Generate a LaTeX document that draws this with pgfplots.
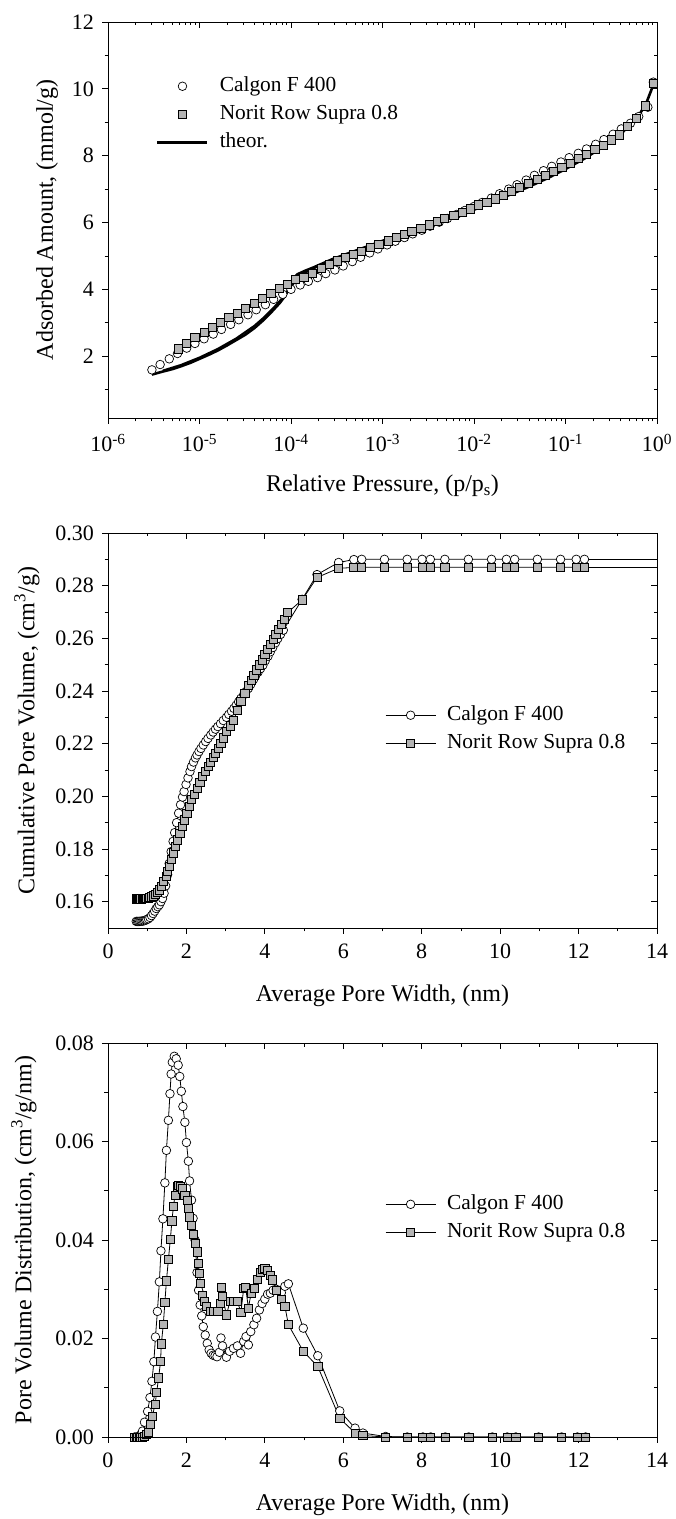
\documentclass[border=0pt]{standalone}
\usepackage{fontspec}
\setmainfont{Liberation Serif}
\usepackage{pgfplots}
\pgfplotsset{compat=1.18}
\usepackage{pgfplotstable}
\definecolor{sqgray}{RGB}{180,180,180}

% ---------- Panel 1 data (lx = log10 of p/ps) ----------
\pgfplotstableread{
lx y
-5.52 1.59
-5.43 1.75
-5.33 1.92
-5.24 2.08
-5.14 2.24
-5.05 2.38
-4.95 2.52
-4.85 2.66
-4.76 2.80
-4.66 2.95
-4.57 3.09
-4.47 3.24
-4.38 3.39
-4.28 3.54
-4.19 3.70
-4.09 3.85
-4.00 4.00
-3.90 4.13
-3.81 4.24
-3.71 4.35
-3.62 4.47
-3.52 4.58
-3.43 4.70
-3.33 4.83
-3.24 4.96
-3.14 5.09
-3.05 5.21
-2.95 5.33
-2.86 5.44
-2.76 5.55
-2.67 5.66
-2.57 5.77
-2.48 5.89
-2.38 6.01
-2.29 6.12
-2.19 6.24
-2.10 6.36
-2.00 6.48
-1.91 6.60
-1.81 6.73
-1.72 6.86
-1.62 7.00
-1.53 7.13
-1.43 7.27
-1.34 7.41
-1.24 7.55
-1.15 7.68
-1.05 7.81
-0.96 7.94
-0.86 8.07
-0.77 8.20
-0.67 8.34
-0.58 8.48
-0.48 8.64
-0.39 8.80
-0.29 8.97
-0.20 9.17
-0.10 9.45
-0.04 10.20
}\calA
\pgfplotstableread{
lx y
-5.23 2.22
-5.14 2.39
-5.05 2.57
-4.95 2.72
-4.86 2.87
-4.77 3.02
-4.68 3.15
-4.59 3.29
-4.50 3.44
-4.40 3.59
-4.31 3.72
-4.22 3.87
-4.13 4.02
-4.04 4.15
-3.95 4.29
-3.86 4.37
-3.77 4.49
-3.67 4.62
-3.58 4.75
-3.49 4.85
-3.41 4.95
-3.32 5.05
-3.23 5.13
-3.13 5.25
-3.04 5.35
-2.94 5.45
-2.85 5.55
-2.76 5.65
-2.68 5.73
-2.58 5.83
-2.49 5.93
-2.40 6.03
-2.32 6.13
-2.22 6.21
-2.13 6.31
-2.04 6.41
-1.95 6.53
-1.86 6.61
-1.77 6.71
-1.68 6.81
-1.59 6.93
-1.50 7.05
-1.41 7.16
-1.31 7.30
-1.22 7.42
-1.13 7.54
-1.04 7.66
-0.95 7.78
-0.86 7.91
-0.77 8.03
-0.68 8.18
-0.59 8.30
-0.50 8.47
-0.41 8.62
-0.32 8.87
-0.23 9.12
-0.13 9.49
-0.04 10.17
}\norA
\pgfplotstableread{
lx y
-5.52 1.45
-5.40 1.54
-5.30 1.61
-5.20 1.70
-5.10 1.80
-5.00 1.92
-4.90 2.04
-4.80 2.17
-4.70 2.32
-4.60 2.48
-4.50 2.64
-4.40 2.84
-4.30 3.08
-4.20 3.36
-4.12 3.60
-4.06 3.82
-4.02 4.05
-3.98 4.30
-3.93 4.45
-3.85 4.55
-3.75 4.66
-3.65 4.78
-3.55 4.90
-3.45 5.00
-3.30 5.15
-3.15 5.30
-3.00 5.45
-2.80 5.65
-2.60 5.83
-2.40 6.03
-2.20 6.22
-2.00 6.42
-1.80 6.62
-1.60 6.84
-1.40 7.07
-1.20 7.32
-1.00 7.60
-0.80 7.90
-0.60 8.25
-0.40 8.65
-0.30 8.90
-0.20 9.20
-0.12 9.55
-0.05 10.05
}\thA
\pgfplotstableread{
lx y
-5.40 1.57
-5.20 1.74
-5.00 1.96
-4.80 2.22
-4.60 2.53
-4.40 2.91
-4.30 3.15
-4.20 3.42
-4.10 3.72
-4.02 3.98
-3.96 4.22
-3.90 4.42
-3.80 4.56
-3.65 4.76
}\thB

% ---------- Panel 2 data ----------
\pgfplotstableread{
x y
0.72 0.1525
0.75 0.1525
0.78 0.1525
0.81 0.1525
0.84 0.1526
0.87 0.1526
0.90 0.1527
0.93 0.1528
0.96 0.1530
0.99 0.1532
1.03 0.1535
1.07 0.1540
1.11 0.1547
1.15 0.1555
1.19 0.1564
1.23 0.1574
1.27 0.1581
1.31 0.1588
1.35 0.1600
1.39 0.1612
1.43 0.1632
1.47 0.1660
1.52 0.1702
1.56 0.1745
1.61 0.1790
1.66 0.1829
1.70 0.1862
1.75 0.1900
1.80 0.1936
1.85 0.1968
1.90 0.1997
1.94 0.2018
1.99 0.2045
2.04 0.2070
2.09 0.2094
2.13 0.2113
2.18 0.2130
2.23 0.2146
2.27 0.2157
2.32 0.2170
2.37 0.2182
2.43 0.2195
2.49 0.2208
2.55 0.2220
2.62 0.2233
2.68 0.2244
2.74 0.2255
2.80 0.2265
2.87 0.2276
2.94 0.2288
3.02 0.2300
3.08 0.2311
3.15 0.2323
3.21 0.2334
3.27 0.2346
3.33 0.2359
3.39 0.2372
3.46 0.2386
3.52 0.2398
3.58 0.2410
3.64 0.2425
3.71 0.2443
3.77 0.2460
3.83 0.2472
3.89 0.2485
3.95 0.2498
4.01 0.2515
4.08 0.2532
4.14 0.2549
4.20 0.2565
4.27 0.2583
4.33 0.2599
4.40 0.2615
4.47 0.2631
4.95 0.2748
5.33 0.2842
5.88 0.2888
6.27 0.2899
6.47 0.2900
7.05 0.2900
7.63 0.2900
8.01 0.2900
8.22 0.2900
8.59 0.2900
9.19 0.2900
9.78 0.2900
10.16 0.2900
10.37 0.2900
10.95 0.2900
11.54 0.2900
11.94 0.2900
12.15 0.2900
}\calB
\pgfplotstableread{
x y
0.72 0.1611
0.75 0.1611
0.78 0.1611
0.81 0.1611
0.84 0.1611
0.87 0.1612
0.90 0.1612
0.93 0.1612
0.96 0.1613
0.99 0.1613
1.02 0.1614
1.06 0.1615
1.10 0.1618
1.15 0.1622
1.20 0.1627
1.25 0.1635
1.30 0.1645
1.36 0.1658
1.42 0.1677
1.48 0.1696
1.52 0.1715
1.57 0.1734
1.61 0.1760
1.66 0.1785
1.71 0.1810
1.76 0.1835
1.83 0.1860
1.90 0.1886
1.95 0.1911
2.01 0.1936
2.07 0.1962
2.13 0.1987
2.20 0.2008
2.27 0.2030
2.34 0.2052
2.41 0.2075
2.48 0.2094
2.55 0.2113
2.62 0.2130
2.68 0.2147
2.74 0.2163
2.81 0.2181
2.88 0.2200
2.95 0.2222
3.02 0.2246
3.11 0.2268
3.20 0.2290
3.30 0.2325
3.39 0.2360
3.49 0.2391
3.58 0.2422
3.65 0.2441
3.72 0.2460
3.79 0.2480
3.86 0.2499
3.93 0.2518
4.00 0.2538
4.07 0.2557
4.14 0.2576
4.21 0.2596
4.28 0.2615
4.35 0.2634
4.42 0.2653
4.49 0.2673
4.58 0.2698
4.95 0.2746
5.33 0.2831
5.88 0.2866
6.27 0.2869
6.47 0.2870
7.05 0.2870
7.63 0.2870
8.01 0.2870
8.22 0.2870
8.59 0.2870
9.19 0.2870
9.78 0.2870
10.16 0.2870
10.37 0.2870
10.95 0.2870
11.54 0.2870
11.94 0.2870
12.15 0.2870
}\norB

% ---------- Panel 3 data ----------
\pgfplotstableread{
x y
0.68 0
0.72 0
0.76 0
0.80 0.0002
0.84 0.0005
0.88 0.0012
0.93 0.0030
1.01 0.0052
1.07 0.0080
1.12 0.0113
1.17 0.0153
1.21 0.0203
1.26 0.0255
1.31 0.0315
1.35 0.0378
1.40 0.0443
1.45 0.0516
1.49 0.0582
1.54 0.0643
1.58 0.0697
1.61 0.0737
1.64 0.0761
1.69 0.0773
1.74 0.0768
1.79 0.0755
1.83 0.0732
1.87 0.0702
1.91 0.0671
1.96 0.0639
2.00 0.0598
2.05 0.0560
2.08 0.0520
2.13 0.0481
2.17 0.0444
2.22 0.0400
2.27 0.0334
2.31 0.0298
2.35 0.0268
2.39 0.0246
2.43 0.0224
2.48 0.0207
2.53 0.0190
2.58 0.0177
2.63 0.0170
2.68 0.0166
2.73 0.0165
2.78 0.0163
2.84 0.0172
2.88 0.0201
2.92 0.0185
3.02 0.0162
3.10 0.0174
3.20 0.0180
3.30 0.0185
3.38 0.0170
3.46 0.0194
3.52 0.0204
3.58 0.0187
3.64 0.0214
3.72 0.0228
3.79 0.0241
3.86 0.0258
3.93 0.0271
4.00 0.0280
4.07 0.0290
4.14 0.0292
4.21 0.0298
4.29 0.0300
4.42 0.0293
4.51 0.0306
4.60 0.0311
4.98 0.0221
5.35 0.0165
5.91 0.0053
6.30 0.0018
6.50 0.0008
7.08 0.0001
7.63 0
8.03 0
8.23 0
8.60 0
9.20 0
9.80 0
10.18 0
10.40 0
10.98 0
11.57 0
11.97 0
12.18 0
}\calC
\pgfplotstableread{
x y
0.68 0
0.72 0
0.76 0
0.80 0
0.84 0
0.88 0
0.92 0.0002
0.98 0.0005
1.03 0.0010
1.08 0.0025
1.13 0.0042
1.20 0.0066
1.24 0.0090
1.29 0.0120
1.34 0.0153
1.36 0.0189
1.41 0.0228
1.45 0.0273
1.49 0.0317
1.54 0.0360
1.59 0.0401
1.63 0.0439
1.67 0.0469
1.71 0.0491
1.76 0.0508
1.80 0.0511
1.85 0.0509
1.90 0.0504
1.96 0.0491
2.02 0.0481
2.05 0.0464
2.08 0.0447
2.13 0.0430
2.18 0.0412
2.22 0.0393
2.27 0.0376
2.30 0.0352
2.33 0.0332
2.36 0.0312
2.41 0.0288
2.46 0.0275
2.50 0.0265
2.60 0.0255
2.69 0.0255
2.80 0.0255
2.86 0.0271
2.89 0.0304
2.92 0.0285
3.02 0.0248
3.11 0.0275
3.20 0.0275
3.30 0.0275
3.39 0.0253
3.46 0.0302
3.51 0.0304
3.58 0.0262
3.65 0.0292
3.74 0.0302
3.81 0.0320
3.89 0.0334
3.93 0.0340
4.00 0.0342
4.06 0.0338
4.14 0.0329
4.20 0.0319
4.29 0.0298
4.42 0.0280
4.51 0.0266
4.60 0.0228
4.98 0.0174
5.35 0.0143
5.91 0.0038
6.30 0.0008
6.50 0.0003
7.08 0
7.63 0
8.03 0
8.23 0
8.60 0
9.20 0
9.80 0
10.18 0
10.40 0
10.98 0
11.57 0
11.97 0
12.18 0
}\norC

\pgfplotsset{
  base/.style={
    scale only axis, width=549bp, height=395bp, anchor=south west,
    axis line style={line width=0.9bp, black},
    tick style={black, line width=0.8bp},
    major tick length=6bp, minor tick length=3.5bp,
    ticklabel style={font=\fontsize{22bp}{26bp}\selectfont},
    /pgf/number format/assume math mode=true,
    label style={font=\fontsize{24bp}{28bp}\selectfont},
    scaled ticks=false,
  },
  mainax/.style={base, tick align=outside, xtick pos=left, ytick pos=left,
    xticklabel style={anchor=north, inner sep=0pt, yshift=-10bp},
    yticklabel style={anchor=east, inner sep=0pt, xshift=-8bp},
    xlabel style={at={(axis description cs:0.5,0)}, anchor=center, yshift=-68bp},
  },
  topax/.style={base, tick align=inside, xtick pos=right, ytick pos=right,
    xticklabels={}, yticklabels={}},
  leg/.style={legend style={at={#1}, anchor=north west, draw=none, fill=none,
      inner sep=0pt, row sep=6bp,
      font=\fontsize{21.4bp}{25bp}\selectfont,
      nodes={inner sep=1bp, text height=15bp, text depth=5bp},
      /tikz/every odd column/.append style={column sep=10bp}},
    legend cell align=left,
    legend image code/.code={\draw[mark repeat=2,mark phase=2,##1] plot coordinates {(0bp,0bp)(25bp,0bp)(50bp,0bp)};}},
  calmark/.style={mark=*, mark size=4.3bp, mark options={fill=white, draw=black, line width=0.7bp}},
  normark/.style={mark=square*, mark size=4.1bp, mark options={fill=sqgray, draw=black, line width=0.7bp}},
}

\newcommand{\logminors}{2e-6,3e-6,4e-6,5e-6,6e-6,7e-6,8e-6,9e-6,2e-5,3e-5,4e-5,5e-5,6e-5,7e-5,8e-5,9e-5,2e-4,3e-4,4e-4,5e-4,6e-4,7e-4,8e-4,9e-4,2e-3,3e-3,4e-3,5e-3,6e-3,7e-3,8e-3,9e-3,2e-2,3e-2,4e-2,5e-2,6e-2,7e-2,8e-2,9e-2,0.2,0.3,0.4,0.5,0.6,0.7,0.8,0.9}

\begin{document}
\begin{tikzpicture}
\path[use as bounding box] (0,0) rectangle (676bp,1519bp);

% ================= Panel 1 =================
\begin{axis}[mainax, at={(108bp,1101bp)}, height=396bp,
  xmode=log, xmin=1e-6, xmax=1, ymin=0.15, ymax=12,
  xtick={1e-6,1e-5,1e-4,1e-3,1e-2,1e-1,1},
  xticklabels={10\textsuperscript{-6},10\textsuperscript{-5},10\textsuperscript{-4},10\textsuperscript{-3},10\textsuperscript{-2},10\textsuperscript{-1},10\textsuperscript{0}},
  minor xtick/.expanded={\logminors},
  ytick={2,4,6,8,10,12}, minor ytick={1,3,5,7,9,11},
  xlabel={Relative Pressure, (p/p\textsubscript{s})},
  ylabel={Adsorbed Amount, (mmol/g)},
  ylabel style={at={(axis description cs:-0.111,0.5)}, anchor=center},
  leg={(0.0874,0.866)},
]
\addplot[only marks, calmark] table[x expr={10^(\thisrow{lx})}, y=y] {\calA};
\addplot[only marks, normark] table[x expr={10^(\thisrow{lx})}, y=y] {\norA};
\addplot[black, line width=2.6bp, no marks, line join=round] table[x expr={10^(\thisrow{lx})}, y=y] {\thA};
\addplot[black, line width=2.0bp, no marks, line join=round, forget plot] table[x expr={10^(\thisrow{lx})}, y=y] {\thB};
\legend{Calgon F 400, Norit Row Supra 0.8, theor.}
\end{axis}
\begin{axis}[topax, at={(108bp,1101bp)}, height=396bp,
  xmode=log, xmin=1e-6, xmax=1, ymin=0.15, ymax=12,
  xtick={1e-6,1e-5,1e-4,1e-3,1e-2,1e-1,1},
  minor xtick/.expanded={\logminors},
  ytick={2,4,6,8,10,12}, minor ytick={1,3,5,7,9,11}]
\end{axis}

% ================= Panel 2 =================
\begin{axis}[mainax, at={(108bp,591bp)},
  xmin=0, xmax=14, ymin=0.15, ymax=0.30,
  xtick={0,2,4,6,8,10,12,14}, minor xtick={1,3,5,7,9,11,13},
  ytick={0.16,0.18,0.20,0.22,0.24,0.26,0.28,0.30},
  minor ytick={0.17,0.19,0.21,0.23,0.25,0.27,0.29},
  yticklabel style={/pgf/number format/.cd, fixed, fixed zerofill, precision=2},
  xlabel={Average Pore Width, (nm)},
  ylabel={Cumulative Pore Volume, (cm\textsuperscript{3}/g)},
  ylabel style={at={(axis description cs:-0.1475,0.5)}, anchor=center},
  leg={(0.5046,0.567)},
]
\addplot[black, line width=0.8bp, calmark] table[x=x, y=y] {\calB};
\addplot[black, line width=0.8bp, normark] table[x=x, y=y] {\norB};
\addplot[black, line width=0.8bp, no marks, forget plot] coordinates {(12.15,0.2900) (14,0.2900)};
\addplot[black, line width=0.8bp, no marks, forget plot] coordinates {(12.15,0.2870) (14,0.2870)};
\legend{Calgon F 400, Norit Row Supra 0.8}
\end{axis}
\begin{axis}[topax, at={(108bp,591bp)},
  xmin=0, xmax=14, ymin=0.15, ymax=0.30,
  xtick={0,2,4,6,8,10,12,14}, minor xtick={1,3,5,7,9,11,13},
  ytick={0.16,0.18,0.20,0.22,0.24,0.26,0.28,0.30},
  minor ytick={0.17,0.19,0.21,0.23,0.25,0.27,0.29}]
\end{axis}

% ================= Panel 3 =================
\begin{axis}[mainax, at={(108bp,82bp)}, height=394bp,
  xmin=0, xmax=14, ymin=0, ymax=0.08,
  xtick={0,2,4,6,8,10,12,14}, minor xtick={1,3,5,7,9,11,13},
  ytick={0,0.02,0.04,0.06,0.08}, minor ytick={0.01,0.03,0.05,0.07},
  yticklabel style={/pgf/number format/.cd, fixed, fixed zerofill, precision=2},
  xlabel={Average Pore Width, (nm)},
  ylabel={Pore Volume Distribution, (cm\textsuperscript{3}/g/nm)},
  ylabel style={at={(axis description cs:-0.153,0.5)}, anchor=center},
  leg={(0.5046,0.619)},
]
\addplot[black, line width=0.8bp, calmark] table[x=x, y=y] {\calC};
\addplot[black, line width=0.8bp, normark] table[x=x, y=y] {\norC};
\addplot[black, line width=0.8bp, no marks, forget plot] coordinates {(12.18,0) (14,0)};
\legend{Calgon F 400, Norit Row Supra 0.8}
\end{axis}
\begin{axis}[topax, at={(108bp,82bp)}, height=394bp,
  xmin=0, xmax=14, ymin=0, ymax=0.08,
  xtick={0,2,4,6,8,10,12,14}, minor xtick={1,3,5,7,9,11,13},
  ytick={0,0.02,0.04,0.06,0.08}, minor ytick={0.01,0.03,0.05,0.07}]
\end{axis}
\end{tikzpicture}
\end{document}
